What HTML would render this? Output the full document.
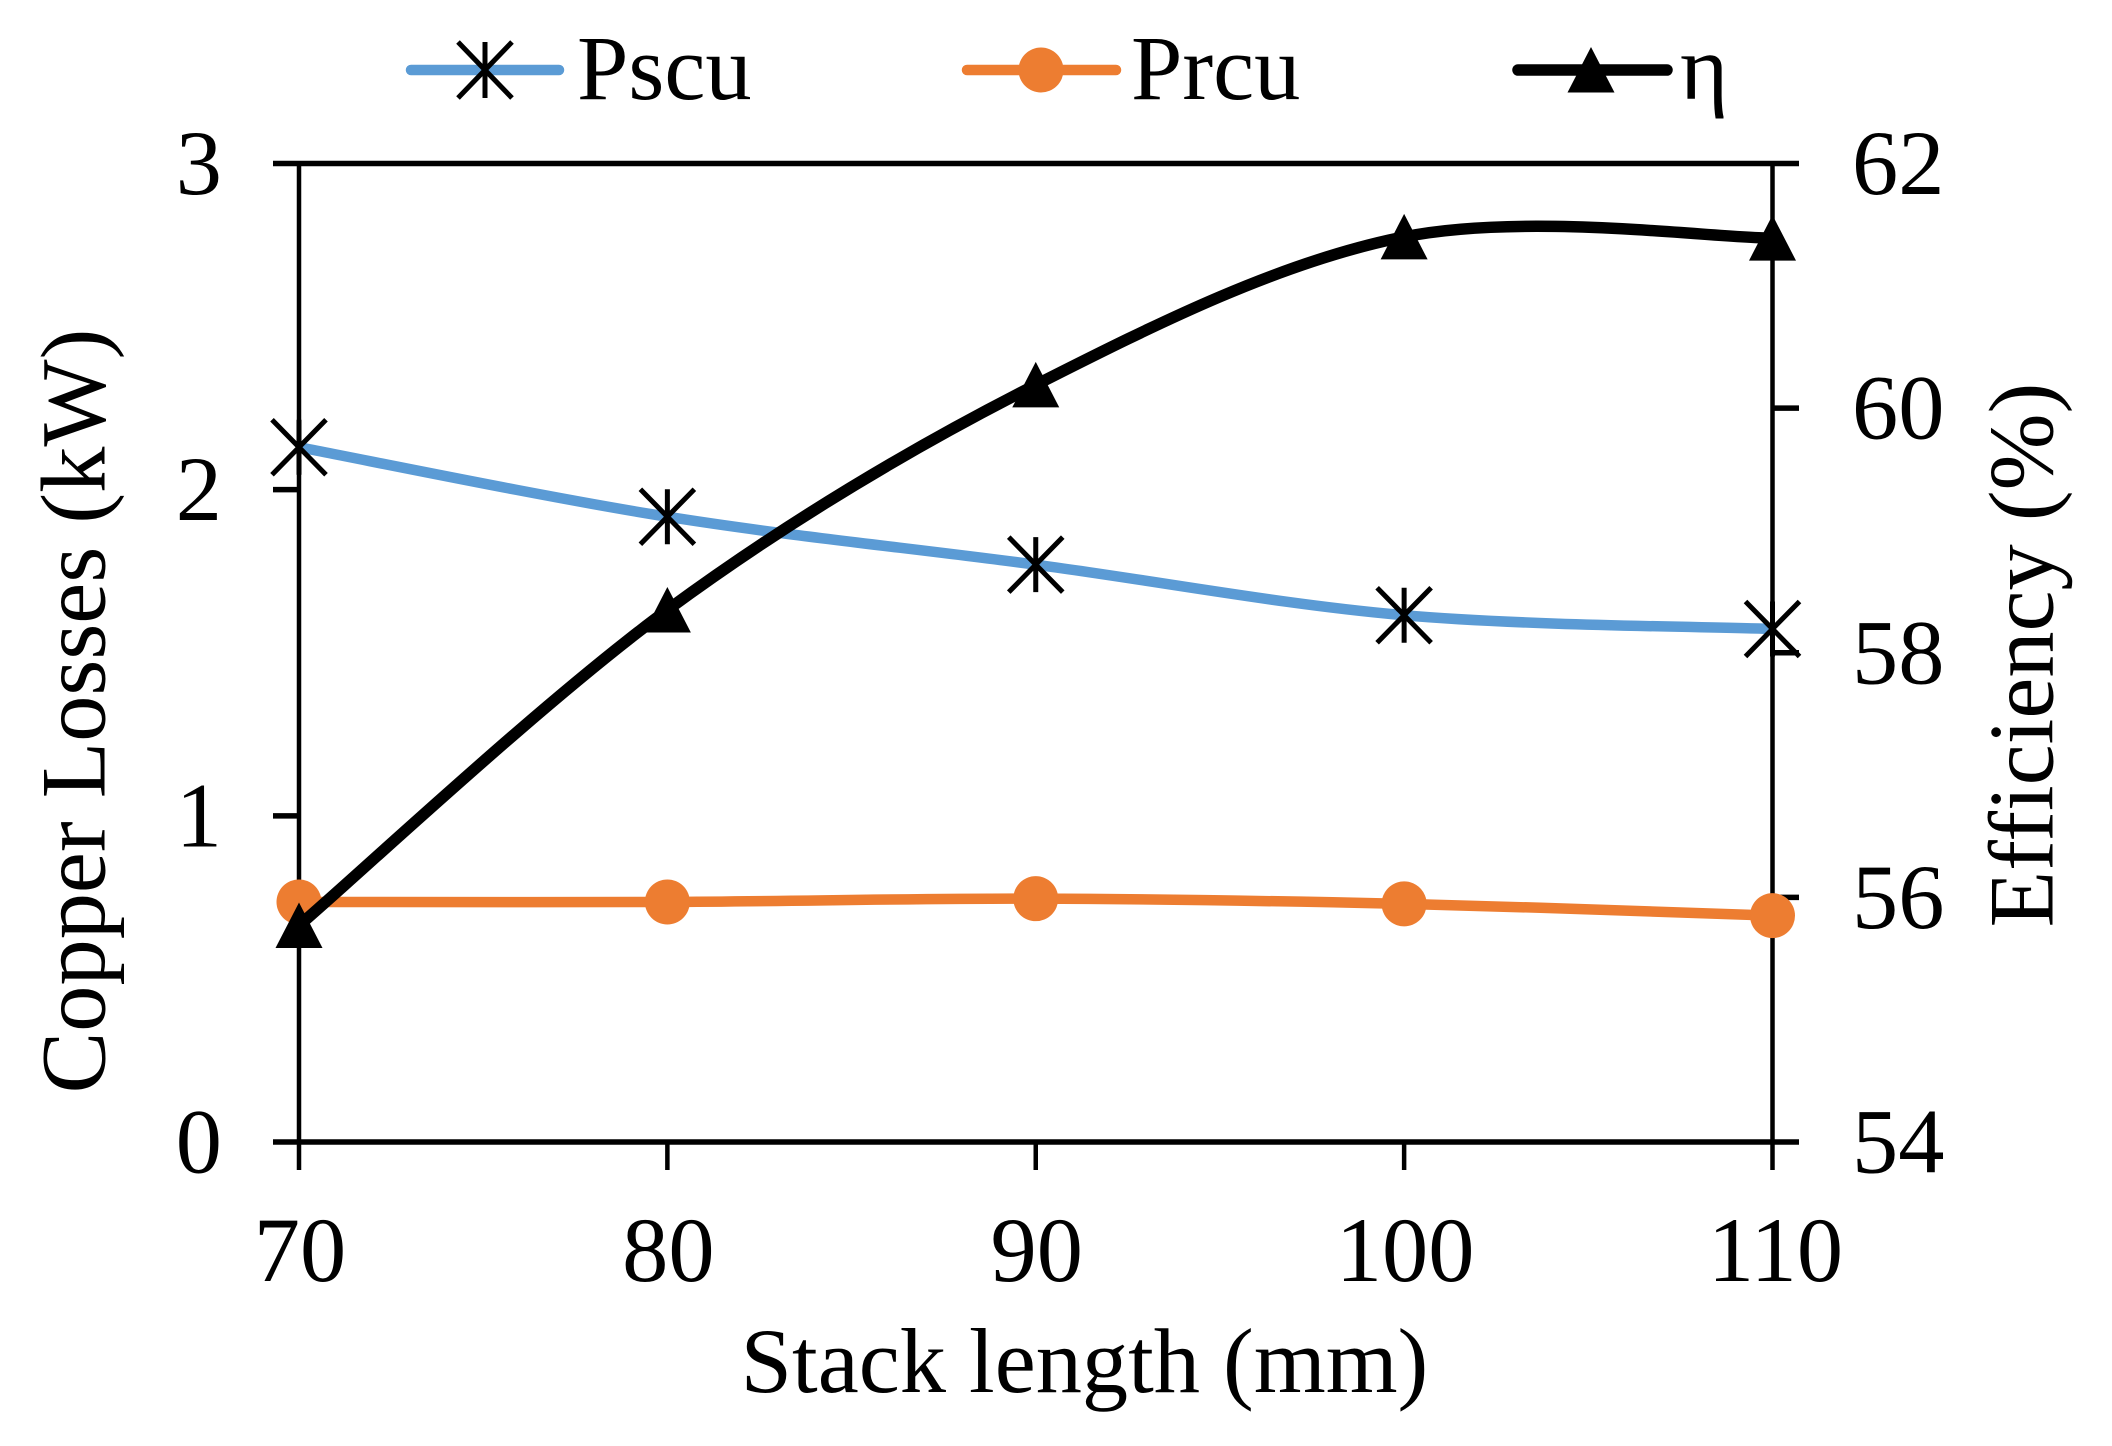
<!DOCTYPE html>
<html lang="en">
<head>
<meta charset="utf-8">
<title>Copper losses and efficiency vs stack length</title>
<style>
html,body{margin:0;padding:0;background:#fff;}
svg{display:block;}
text{font-family:"Liberation Serif","Times New Roman",serif;fill:#000;font-size:92.4px;}
</style>
</head>
<body>
<svg id="chart" xmlns="http://www.w3.org/2000/svg" width="2112" height="1446" viewBox="0 0 2112 1446">
  <rect x="0" y="0" width="2112" height="1446" fill="#fff"/>
  <g id="axes"></g>
  <g id="series"></g>

  <text x="1084.5" y="1392" text-anchor="middle">Stack length (mm)</text>
  <text transform="translate(104.5 711) rotate(-90)" text-anchor="middle">Copper Losses (kW)</text>
  <text transform="translate(2052.5 655) rotate(-90)" text-anchor="middle">Efficiency (%)</text>

  <g>
    <g>
      <line x1="411" y1="70" x2="559" y2="70" stroke="#5B9BD5" stroke-width="10.5" stroke-linecap="round"/>
      <path d="M485 42V98M458 42L512 98M512 42L458 98" fill="none" stroke="#000" stroke-width="5"/>
      <text x="577" y="99">Pscu</text>
    </g>
    <g>
      <line x1="967" y1="70" x2="1116" y2="70" stroke="#ED7D31" stroke-width="10.5" stroke-linecap="round"/>
      <circle cx="1041" cy="70" r="22.5" fill="#ED7D31"/>
      <text x="1131" y="99">Prcu</text>
    </g>
    <g>
      <line x1="1518" y1="70" x2="1667" y2="70" stroke="#000" stroke-width="11.5" stroke-linecap="round"/>
      <polygon points="1591,47 1614.5,92.5 1567.5,92.5" fill="#000"/>
      <text x="1680" y="99">η</text>
    </g>
  </g>
</svg>
<script>
var categories = [70, 80, 90, 100, 110];
var pscuValues = [2.13, 1.917, 1.77, 1.615, 1.573];
var prcuValues = [0.736, 0.736, 0.746, 0.73, 0.694];
var etaValues = [55.77, 58.35, 60.19, 61.40, 61.39];
var leftTicks = [0, 1, 2, 3];
var rightTicks = [54, 56, 58, 60, 62];

var SVGNS = 'http://www.w3.org/2000/svg';
var plot = { left: 299, right: 1772.5, top: 163.5, bottom: 1142 };
var xMin = 70, xMax = 110, leftMin = 0, leftMax = 3, rightMin = 54, rightMax = 62;

function xScale(v) { return plot.left + (v - xMin) / (xMax - xMin) * (plot.right - plot.left); }
function yLeft(v) { return plot.bottom - (v - leftMin) / (leftMax - leftMin) * (plot.bottom - plot.top); }
function yRight(v) { return plot.bottom - (v - rightMin) / (rightMax - rightMin) * (plot.bottom - plot.top); }

function make(tag, parent, attrs) {
  var el = document.createElementNS(SVGNS, tag);
  for (var k in attrs) { el.setAttribute(k, attrs[k]); }
  parent.appendChild(el);
  return el;
}

var axes = document.getElementById('axes');
var seriesLayer = document.getElementById('series');

function axisLine(parent, name, x1, y1, x2, y2, w) {
  var el = make('line', parent, { x1: x1, y1: y1, x2: x2, y2: y2, stroke: '#000', 'stroke-width': w });
  
  
  return el;
}

axisLine(axes, 'left-y-axis-line', plot.left, plot.top, plot.left, 1170, 4.5);
axisLine(axes, 'right-y-axis-line', plot.right, plot.top, plot.right, 1170, 4.5);
axisLine(axes, 'top-axis-line', 273, plot.top, 1799, plot.top, 5.5);
axisLine(axes, 'x-axis-line', 273, plot.bottom, 1799, plot.bottom, 5.5);

leftTicks.forEach(function (t) {
  var y = yLeft(t);
  if (t !== leftMin && t !== leftMax) {
    axisLine(axes, 'left-tick-mark-' + t, 273, y, plot.left, y, 5.5);
  }
  var label = make('text', axes, { x: 222, y: y + 30.5, 'text-anchor': 'end' });
  
  
  label.textContent = String(t);
});

rightTicks.forEach(function (t) {
  var y = yRight(t);
  if (t !== rightMin && t !== rightMax) {
    axisLine(axes, 'right-tick-mark-' + t, plot.right, y, 1799, y, 5.5);
  }
  var label = make('text', axes, { x: 1852, y: y + 30.5, 'text-anchor': 'start' });
  
  
  label.textContent = String(t);
});

categories.forEach(function (c) {
  var x = xScale(c);
  if (c !== xMin && c !== xMax) {
    axisLine(axes, 'x-tick-mark-' + c, x, plot.bottom, x, 1170, 4.5);
  }
  var label = make('text', axes, { x: x + (c === xMax ? 3 : 1), y: 1281, 'text-anchor': 'middle' });
  
  
  label.textContent = String(c);
});

function smoothPath(xs, ys) {
  var n = xs.length, d = 'M' + xs[0] + ' ' + ys[0];
  for (var i = 0; i < n - 1; i++) {
    var p0x = xs[Math.max(i - 1, 0)], p0y = ys[Math.max(i - 1, 0)];
    var p3x = xs[Math.min(i + 2, n - 1)], p3y = ys[Math.min(i + 2, n - 1)];
    var c1x = xs[i] + (xs[i + 1] - p0x) / 6, c1y = ys[i] + (ys[i + 1] - p0y) / 6;
    var c2x = xs[i + 1] - (p3x - xs[i]) / 6, c2y = ys[i + 1] - (p3y - ys[i]) / 6;
    d += 'C' + c1x + ' ' + c1y + ' ' + c2x + ' ' + c2y + ' ' + xs[i + 1] + ' ' + ys[i + 1];
  }
  return d;
}

function drawLine(name, values, yFn, color, width) {
  var xs = categories.map(xScale);
  var ys = values.map(yFn);
  var path = make('path', seriesLayer, { d: smoothPath(xs, ys), fill: 'none', stroke: color, 'stroke-width': width, 'stroke-linejoin': 'round' });
  
  
}

function starMarker(x, y, id) {
  var d = 'M' + x + ' ' + (y - 27.5) + 'V' + (y + 27.5) +
          'M' + (x - 27) + ' ' + (y - 27.5) + 'L' + (x + 27) + ' ' + (y + 27.5) +
          'M' + (x + 27) + ' ' + (y - 27.5) + 'L' + (x - 27) + ' ' + (y + 27.5);
  var el = make('path', seriesLayer, { d: d, fill: 'none', stroke: '#000', 'stroke-width': 5 });
  
  
}

function circleMarker(x, y, id) {
  var el = make('circle', seriesLayer, { cx: x, cy: y, r: 22.5, fill: '#ED7D31' });
  
  
}

function triangleMarker(x, y, id) {
  var pts = x + ',' + (y - 23) + ' ' + (x + 23.5) + ',' + (y + 22.5) + ' ' + (x - 23.5) + ',' + (y + 22.5);
  var el = make('polygon', seriesLayer, { points: pts, fill: '#000' });
  
  
}

drawLine('pscu-line', pscuValues, yLeft, '#5B9BD5', 10.5);
categories.forEach(function (c, i) { starMarker(xScale(c), yLeft(pscuValues[i]), c); });

drawLine('prcu-line', prcuValues, yLeft, '#ED7D31', 10.5);
categories.forEach(function (c, i) { circleMarker(xScale(c), yLeft(prcuValues[i]), c); });

drawLine('eta-line', etaValues, yRight, '#000', 11.5);
categories.forEach(function (c, i) { triangleMarker(xScale(c), yRight(etaValues[i]), c); });
</script>
</body>
</html>
